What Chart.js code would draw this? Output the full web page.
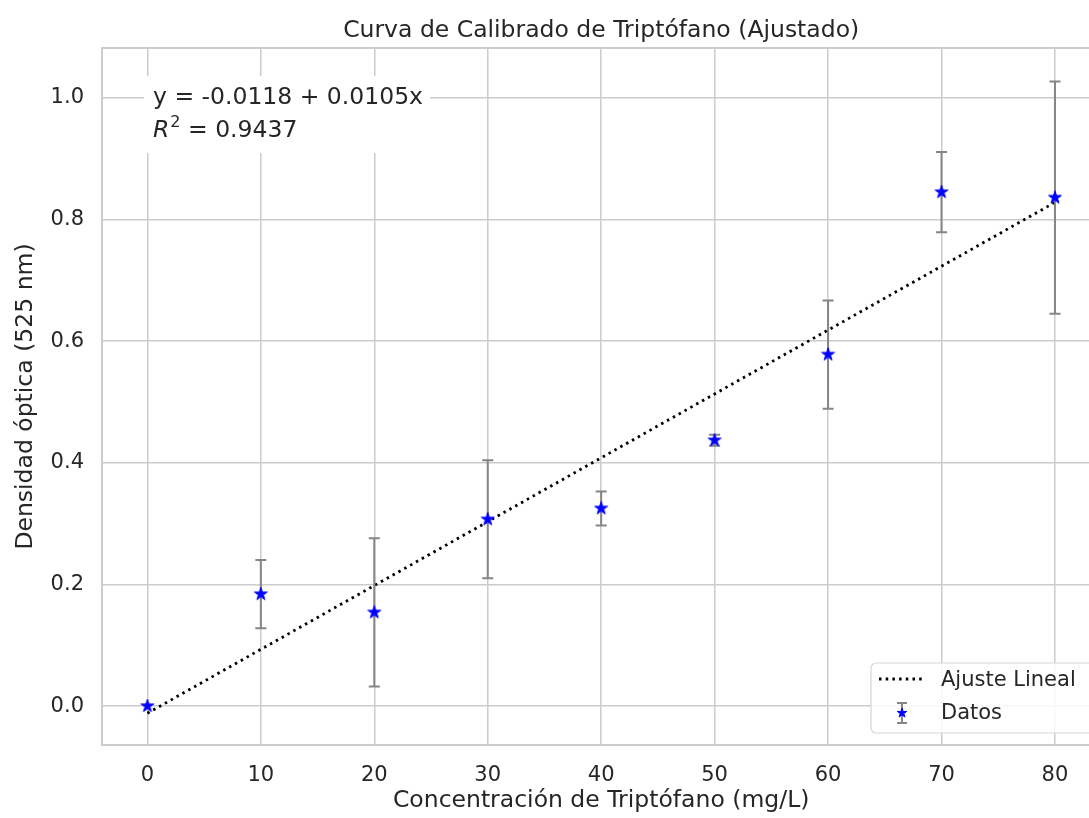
<!DOCTYPE html>
<html lang="es">
<head>
<meta charset="utf-8">
<title>Curva de Calibrado de Triptófano</title>
<script src="https://cdn.jsdelivr.net/npm/chart.js@4.4.1/dist/chart.umd.min.js"></script>
<style>
  html, body { margin: 0; padding: 0; background: #fff; }
  canvas { display: block; }
</style>
</head>
<body>
<canvas id="chart" width="1089" height="818"></canvas>
<script>
// Datos
const concentraciones = [0, 10, 20, 30, 40, 50, 60, 70, 80];
const densidades = [0.000, 0.184, 0.154, 0.307, 0.325, 0.437, 0.578, 0.845, 0.836];
const errores = [0.000, 0.056, 0.122, 0.097, 0.028, 0.009, 0.089, 0.066, 0.191];

const xTicks = [0, 10, 20, 30, 40, 50, 60, 70, 80];
const yTicks = [0.0, 0.2, 0.4, 0.6, 0.8, 1.0];

// Ajuste lineal
const intercepto = -0.0118;
const pendiente = 0.0105;
const r2 = 0.9437;
const ajusteX = [0, 80];

const FONT = "'DejaVu Sans', sans-serif";
const TEXT = '#262626';
const GRID = '#cccccc';
const ERR = '#858585';
const BLUE = '#0000ff';

function makeStar(r, color) {
    const size = Math.ceil(r * 2 + 4);
    const c = document.createElement('canvas');
    c.width = c.height = size;
    const ctx = c.getContext('2d');
    ctx.translate(size / 2, size / 2);
    ctx.beginPath();
    for (let i = 0; i < 10; i++) {
        const rad = i % 2 ? r * 0.382 : r;
        const a = -Math.PI / 2 + i * Math.PI / 5;
        ctx.lineTo(rad * Math.cos(a), rad * Math.sin(a));
    }
    ctx.closePath();
    ctx.fillStyle = color;
    ctx.fill();
    ctx.lineWidth = 1;
    ctx.strokeStyle = color;
    ctx.stroke();
    return c;
}

const starBig = makeStar(6.8, BLUE);
const starSmall = makeStar(5, BLUE);

function drawErrorBar(ctx, x, yTop, yBot, cap) {
    ctx.beginPath();
    ctx.moveTo(x, yTop);
    ctx.lineTo(x, yBot);
    ctx.moveTo(x - cap, yTop);
    ctx.lineTo(x + cap, yTop);
    ctx.moveTo(x - cap, yBot);
    ctx.lineTo(x + cap, yBot);
    ctx.stroke();
}

const decoracion = {
    id: 'decoracion',
    beforeDraw(chart) {
        const ctx = chart.ctx;
        ctx.save();
        ctx.fillStyle = '#fff';
        ctx.fillRect(0, 0, chart.width, chart.height);
        ctx.restore();
    },
    afterDatasetDraw(chart, args) {
        // barras de error encima de la recta, debajo de las estrellas
        if (args.index !== 0) return;
        const ctx = chart.ctx;
        const xs = chart.scales.x, ys = chart.scales.y;
        ctx.save();
        ctx.strokeStyle = ERR;
        ctx.lineWidth = 2;
        concentraciones.forEach((c, i) => {
            if (errores[i] <= 0) return;
            drawErrorBar(ctx, xs.getPixelForValue(c),
                ys.getPixelForValue(densidades[i] + errores[i]),
                ys.getPixelForValue(densidades[i] - errores[i]), 5.5);
        });
        ctx.restore();
    },
    afterDraw(chart) {
        const ctx = chart.ctx;
        const a = chart.chartArea;
        const cx = chart.scales.x.getPixelForValue(40);
        ctx.save();

        // marco
        ctx.strokeStyle = GRID;
        ctx.lineWidth = 2;
        ctx.strokeRect(a.left, a.top, 1100 - a.left, a.bottom - a.top);

        // título
        ctx.fillStyle = TEXT;
        ctx.font = `23.5px ${FONT}`;
        ctx.textAlign = 'center';
        ctx.textBaseline = 'alphabetic';
        ctx.fillText('Curva de Calibrado de Triptófano (Ajustado)', cx, 37);

        // títulos de ejes
        ctx.fillText('Concentración de Triptófano (mg/L)', cx, 807);
        ctx.save();
        ctx.translate(32, (a.top + a.bottom) / 2);
        ctx.rotate(-Math.PI / 2);
        ctx.fillText('Densidad óptica (525 nm)', 0, 0);
        ctx.restore();

        // cuadro con la ecuación
        const bx = a.left + 42, by = a.top + 28;
        ctx.fillStyle = '#fff';
        ctx.fillRect(bx, by, 286, 77);
        ctx.fillStyle = TEXT;
        ctx.textAlign = 'left';
        const sign = intercepto < 0 ? '-' : '';
        ctx.fillText(`y = ${sign}${Math.abs(intercepto).toFixed(4)} + ${pendiente.toFixed(4)}x`, bx + 9, by + 28);
        let tx = bx + 9;
        const ty = by + 61;
        ctx.font = `italic 23.5px ${FONT}`;
        ctx.fillText('R', tx, ty);
        tx += ctx.measureText('R').width + 1;
        ctx.font = `16px ${FONT}`;
        ctx.fillText('2', tx, ty - 10);
        tx += ctx.measureText('2').width;
        ctx.font = `23.5px ${FONT}`;
        ctx.fillText(` = ${r2.toFixed(4)}`, tx, ty);

        // leyenda
        const lx = 871, ly = 663;
        ctx.beginPath();
        ctx.roundRect(lx, ly, 1100 - lx, 70, 5);
        ctx.fillStyle = 'rgba(255,255,255,0.85)';
        ctx.fill();
        ctx.strokeStyle = '#d6d6d6';
        ctx.lineWidth = 1.2;
        ctx.stroke();

        ctx.strokeStyle = '#000';
        ctx.lineWidth = 2.8;
        ctx.setLineDash([2.5, 4.2]);
        ctx.beginPath();
        ctx.moveTo(879, 679);
        ctx.lineTo(922, 679);
        ctx.stroke();
        ctx.setLineDash([]);

        ctx.strokeStyle = ERR;
        ctx.lineWidth = 2;
        drawErrorBar(ctx, 902, 703, 723, 5);
        ctx.drawImage(starSmall, 902 - starSmall.width / 2, 713 - starSmall.height / 2);

        ctx.fillStyle = TEXT;
        ctx.font = `21px ${FONT}`;
        ctx.fillText('Ajuste Lineal', 941, 686);
        ctx.fillText('Datos', 941, 719);

        ctx.restore();
    }
};

new Chart(document.getElementById('chart'), {
    type: 'scatter',
    data: {
        datasets: [
            {
                label: 'Ajuste Lineal',
                type: 'line',
                data: ajusteX.map(x => ({ x: x, y: intercepto + pendiente * x })),
                borderColor: '#000',
                borderWidth: 2.8,
                borderDash: [2.5, 4.2],
                pointRadius: 0,
                fill: false,
                order: 2
            },
            {
                label: 'Datos',
                data: concentraciones.map((c, i) => ({ x: c, y: densidades[i] })),
                pointStyle: starBig,
                pointRadius: 7,
                order: 1
            }
        ]
    },
    options: {
        responsive: false,
        animation: false,
        events: [],
        layout: { autoPadding: false, padding: { top: 48, right: 0, bottom: 0, left: 0 } },
        plugins: {
            legend: { display: false },
            tooltip: { enabled: false },
            title: { display: false }
        },
        scales: {
            x: {
                type: 'linear',
                min: -4,
                max: 83,
                afterBuildTicks: s => { s.ticks = xTicks.map(v => ({ value: v })); },
                afterFit: s => { s.height = 73; s.paddingLeft = 0; s.paddingRight = 0; },
                ticks: {
                    font: { family: FONT, size: 21 },
                    color: TEXT,
                    padding: 18,
                    maxRotation: 0,
                    callback: v => String(v)
                },
                grid: { color: GRID, lineWidth: 1.5, drawTicks: false },
                border: { display: false }
            },
            y: {
                type: 'linear',
                min: -0.064,
                max: 1.082,
                afterBuildTicks: s => { s.ticks = yTicks.map(v => ({ value: v })); },
                afterFit: s => { s.width = 102; s.paddingTop = 0; s.paddingBottom = 0; },
                ticks: {
                    font: { family: FONT, size: 21 },
                    color: TEXT,
                    padding: 18,
                    callback: v => v.toFixed(1)
                },
                grid: { color: GRID, lineWidth: 1.5, drawTicks: false },
                border: { display: false }
            }
        }
    },
    plugins: [decoracion]
});
</script>
</body>
</html>
